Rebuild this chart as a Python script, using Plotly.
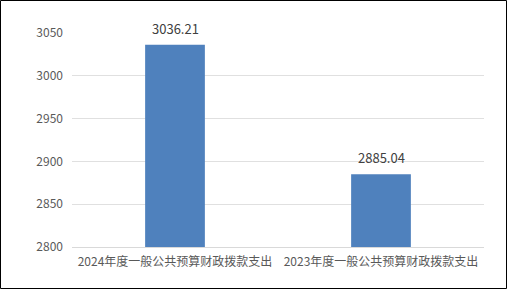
import plotly.graph_objects as go

categories = ["2024年度一般公共预算财政拨款支出", "2023年度一般公共预算财政拨款支出"]
values = [3036.21, 2885.04]
value_labels = ["3036.21", "2885.04"]
tick_vals = [2800, 2850, 2900, 2950, 3000, 3050]

FONT = "Noto Sans CJK SC, DejaVu Sans, sans-serif"

fig = go.Figure()
fig.add_trace(go.Bar(
    x=categories, y=values, marker=dict(color="#4f81bd", line=dict(width=0)),
    width=0.29, cliponaxis=False, hoverinfo="skip",
))
for c, v, t in zip(categories, values, value_labels):
    fig.add_annotation(x=c, y=v, text=t, showarrow=False, yanchor="bottom",
                       yshift=5, font=dict(size=13, color="#404040", family=FONT))

L, R, T, B = 72, 23, 33, 42
W, H = 507, 289
pw, ph = W - L - R, H - T - B
fig.add_shape(type="rect", xref="paper", yref="paper",
              x0=(-L + 0.5) / pw, x1=(W - L - 0.5) / pw,
              y0=(-B + 0.5) / ph, y1=(H - B - 0.5) / ph,
              line=dict(color="#000000", width=1), layer="above")

fig.update_layout(
    width=W, height=H, margin=dict(l=L, r=R, t=T, b=B),
    paper_bgcolor="white", plot_bgcolor="white", showlegend=False,
    bargap=0.71,
    font=dict(family=FONT, size=12, color="#595959"),
    xaxis=dict(showgrid=False, showline=True, linecolor="#d9d9d9", linewidth=1,
               ticks="", tickfont=dict(size=12, color="#595959"),
               ticklabelstandoff=4),
    yaxis=dict(range=[2800, 3050], tickvals=tick_vals, showgrid=True,
               gridcolor="#e0e0e0", gridwidth=1, zeroline=False, showline=False,
               ticks="", ticklen=0, tickfont=dict(size=12, color="#595959"),
               ticklabelstandoff=8),
)
fig.write_html("out.html")
